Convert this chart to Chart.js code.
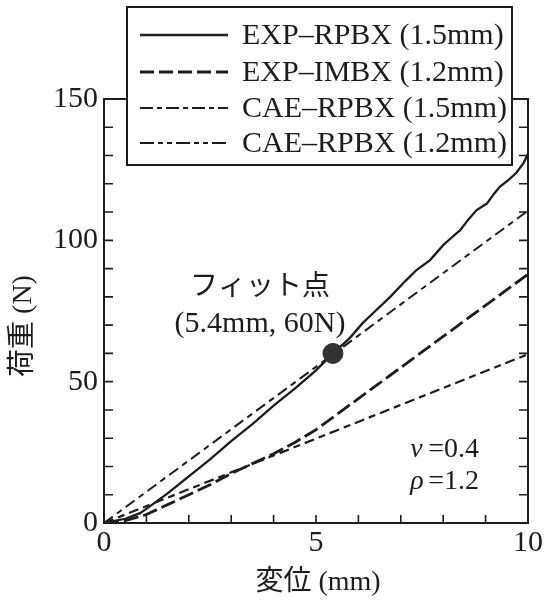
<!DOCTYPE html>
<html>
<head>
<meta charset="utf-8">
<script src="https://cdn.jsdelivr.net/npm/chart.js@4/dist/chart.umd.min.js"></script>
<style>
  html, body { margin: 0; padding: 0; background: #fff; }
  canvas { display: block; }
</style>
</head>
<body>
<canvas id="c" width="547" height="606"></canvas>
<script>
// data (displacement mm -> load N)
const expRpbxX = [0, 0.5, 0.85, 1, 1.5, 2, 2.5, 3, 3.5, 4, 4.5, 5, 5.4, 5.8, 6.1, 6.4, 6.75, 7.1, 7.37, 7.69, 8.0, 8.2, 8.4, 8.6, 8.79, 9.03, 9.2, 9.34, 9.55, 9.73, 9.9, 10];
const expRpbxY = [0, 1.5, 3.5, 5, 10.5, 16.5, 22.5, 29, 35, 41.5, 47.5, 54, 60, 65.5, 70.7, 75, 80, 85.5, 89.5, 93, 98.3, 101, 103.6, 107.5, 110.7, 113, 116.5, 119, 121.5, 124, 127.5, 130.5];
const expImbxX = [0, 0.5, 1, 1.5, 2, 2.5, 3, 3.5, 4, 4.5, 5, 5.5, 6, 7, 8, 9, 10];
const expImbxY = [0, 0.8, 3, 6.5, 10, 13.5, 17.5, 21, 24.5, 28.5, 33, 38.5, 44, 55, 66, 77, 88];
const cae15X = [0, 10];
const cae15Y = [0, 110.5];
const cae12X = [0, 10];
const cae12Y = [0, 59.7];
const fitX = [5.4];
const fitY = [60];

const seriesNames = ['EXP\u2013RPBX (1.5mm)', 'EXP\u2013IMBX (1.2mm)', 'CAE\u2013RPBX (1.5mm)', 'CAE\u2013RPBX (1.2mm)'];
const xTickLabels = [0, 5, 10];
const yTickLabels = [0, 50, 100, 150];

const ink = '#1c1c1c';
const serif = '"Liberation Serif", "Noto Sans CJK JP", serif';

function pts(xs, ys) { return xs.map((x, i) => ({x: x, y: ys[i]})); }

const lineStyles = [
  {borderWidth: 2.3, borderDash: []},
  {borderWidth: 2.8, borderDash: [15, 5]},
  {borderWidth: 2.0, borderDash: [11, 5, 6, 5]},
  {borderWidth: 2.2, borderDash: [10, 5, 7, 5]}
];
// the legend samples use slightly different dash rhythms
const legendDash = [[], [14, 5], [13, 4, 5, 4], [14, 4, 5, 4, 5, 4]];

const datasets = [
  {label: seriesNames[0], data: pts(expRpbxX, expRpbxY)},
  {label: seriesNames[1], data: pts(expImbxX, expImbxY)},
  {label: seriesNames[2], data: pts(cae15X, cae15Y)},
  {label: seriesNames[3], data: pts(cae12X, cae12Y)}
].map((d, i) => Object.assign(d, lineStyles[i], {
  borderColor: ink, pointRadius: 0, fill: false, tension: 0, order: 2
}));

datasets.push({
  label: 'fit', data: pts(fitX, fitY), showLine: false,
  pointRadius: 10, pointBackgroundColor: '#333', pointBorderColor: '#333', order: 1
});

const decor = {
  id: 'decor',
  beforeDatasetsDraw(chart) {
    const {ctx, chartArea: a, scales: {x, y}} = chart;
    ctx.save();
    ctx.strokeStyle = ink;
    ctx.lineWidth = 2;
    ctx.strokeRect(a.left, a.top, a.right - a.left, a.bottom - a.top);
    ctx.lineWidth = 1.6;
    ctx.beginPath();
    for (let v = 1; v < 10; v++) {
      const px = x.getPixelForValue(v);
      ctx.moveTo(px, a.bottom); ctx.lineTo(px, a.bottom - 8);
    }
    for (let v = 10; v < 150; v += 10) {
      const py = y.getPixelForValue(v);
      ctx.moveTo(a.left, py); ctx.lineTo(a.left + 9, py);
      ctx.moveTo(a.right, py); ctx.lineTo(a.right - 9, py);
    }
    ctx.stroke();
    ctx.restore();
  },
  afterDraw(chart) {
    const {ctx, scales: {x, y}} = chart;
    ctx.save();
    // legend box
    const L = 127, T = 7, R = 512, B = 165;
    ctx.fillStyle = '#fff';
    ctx.fillRect(L, T, R - L, B - T);
    ctx.strokeStyle = ink;
    ctx.lineWidth = 2;
    ctx.strokeRect(L, T, R - L, B - T);
    const rows = [35, 72, 108, 143];
    ctx.font = '30px ' + serif;
    ctx.textBaseline = 'middle';
    ctx.textAlign = 'left';
    ctx.fillStyle = ink;
    seriesNames.forEach((name, i) => {
      ctx.beginPath();
      ctx.setLineDash(legendDash[i]);
      ctx.lineWidth = lineStyles[i].borderWidth;
      ctx.moveTo(140, rows[i]); ctx.lineTo(228, rows[i]);
      ctx.stroke();
      ctx.setLineDash([]);
      ctx.fillText(name, 242, rows[i] + 1);
    });

    // annotations
    ctx.textAlign = 'center';
    ctx.font = '28px ' + serif;
    ctx.fillText('フィット点', x.getPixelForValue(3.68), y.getPixelForValue(83.3));
    ctx.font = '30px ' + serif;
    ctx.fillText('(5.4mm, 60N)', x.getPixelForValue(3.68), y.getPixelForValue(70.5));

    ctx.textAlign = 'left';
    const nx = x.getPixelForValue(7.22);
    ctx.font = 'italic 28px ' + serif;
    ctx.fillText('\u03bd', nx, y.getPixelForValue(25.8));
    ctx.fillText('\u03c1', nx, y.getPixelForValue(14.5));
    ctx.font = '28px ' + serif;
    ctx.fillText(' =0.4', nx + 11, y.getPixelForValue(25.8));
    ctx.fillText(' =1.2', nx + 11, y.getPixelForValue(14.5));

    // axis titles
    ctx.font = '28px ' + serif;
    ctx.textAlign = 'center';
    ctx.fillText('変位 (mm)', 318, 583);
    ctx.translate(24, 326);
    ctx.rotate(-Math.PI / 2);
    ctx.fillText('荷重 (N)', 0, 0);
    ctx.restore();
  }
};

new Chart(document.getElementById('c'), {
  type: 'line',
  data: {datasets},
  options: {
    responsive: false,
    animation: false,
    devicePixelRatio: 1,
    layout: {padding: {top: 99, right: 19, left: 0, bottom: 0}},
    plugins: {legend: {display: false}, tooltip: {enabled: false}},
    scales: {
      x: {
        type: 'linear', min: 0, max: 10,
        afterFit: s => { s.height = 83; },
        afterBuildTicks: s => { s.ticks = xTickLabels.map(v => ({value: v})); },
        grid: {display: false, drawTicks: false},
        border: {display: false},
        ticks: {color: ink, padding: 2, font: {family: serif, size: 30}, maxRotation: 0, autoSkip: false}
      },
      y: {
        type: 'linear', min: 0, max: 150,
        afterFit: s => { s.width = 104; },
        afterBuildTicks: s => { s.ticks = yTickLabels.map(v => ({value: v})); },
        grid: {display: false, drawTicks: false},
        border: {display: false},
        ticks: {color: ink, padding: 6, font: {family: serif, size: 30}, autoSkip: false}
      }
    }
  },
  plugins: [decor]
});
</script>
</body>
</html>
